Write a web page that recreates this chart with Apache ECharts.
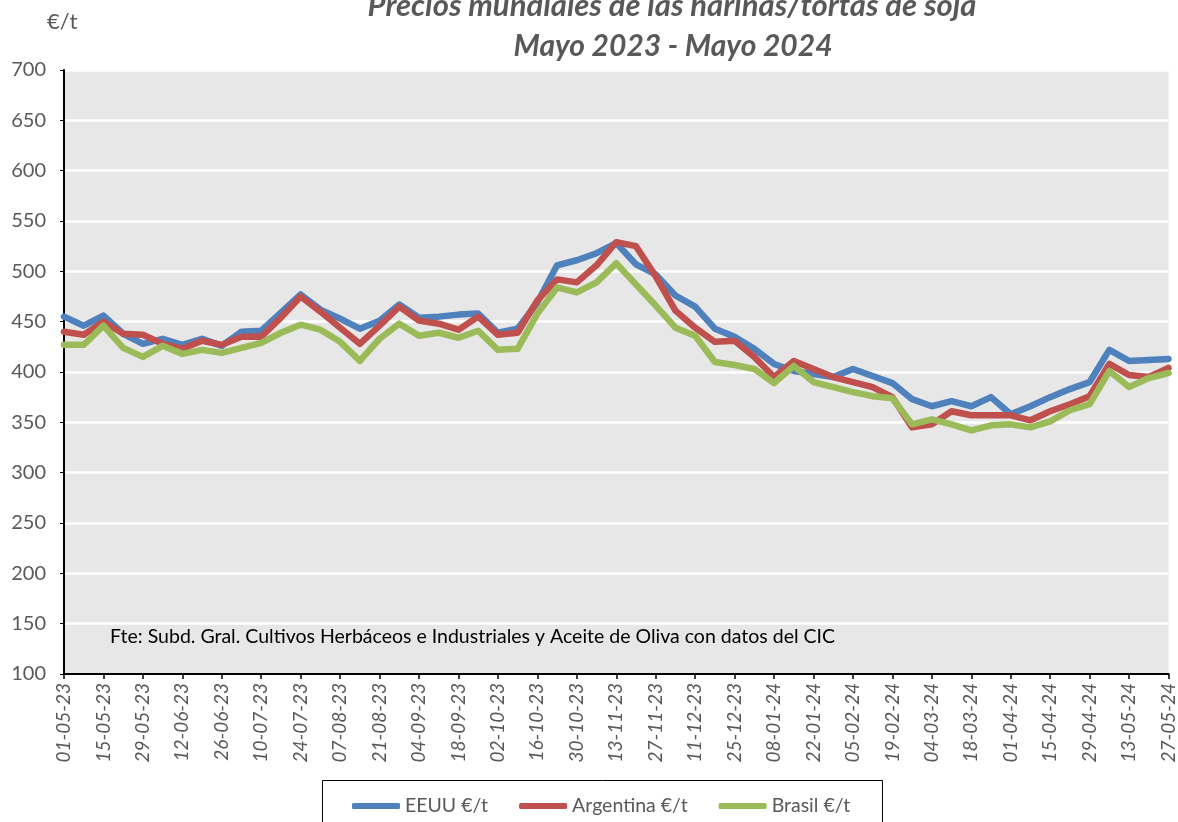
<!DOCTYPE html>
<html>
<head>
<meta charset="utf-8">
<script src="https://cdn.jsdelivr.net/npm/echarts@6/dist/echarts.min.js"></script>
<style>
  html, body { margin: 0; padding: 0; background: #fff; }
  #chart { width: 1178px; height: 822px; }
</style>
</head>
<body>
<div id="chart"></div>
<script>
// semanas (lunes) de mayo 2023 a mayo 2024
const fechas = [
  '01-05-23', '08-05-23', '15-05-23', '22-05-23', '29-05-23',
  '05-06-23', '12-06-23', '19-06-23', '26-06-23',
  '03-07-23', '10-07-23', '17-07-23', '24-07-23', '31-07-23',
  '07-08-23', '14-08-23', '21-08-23', '28-08-23',
  '04-09-23', '11-09-23', '18-09-23', '25-09-23',
  '02-10-23', '09-10-23', '16-10-23', '23-10-23', '30-10-23',
  '06-11-23', '13-11-23', '20-11-23', '27-11-23',
  '04-12-23', '11-12-23', '18-12-23', '25-12-23',
  '01-01-24', '08-01-24', '15-01-24', '22-01-24', '29-01-24',
  '05-02-24', '12-02-24', '19-02-24', '26-02-24',
  '04-03-24', '11-03-24', '18-03-24', '25-03-24',
  '01-04-24', '08-04-24', '15-04-24', '22-04-24', '29-04-24',
  '06-05-24', '13-05-24', '20-05-24', '27-05-24'
];

const eeuu = [
  455, 446, 456, 438, 428, 433, 427, 433, 426, 440, 441, 459, 477, 462, 453,
  443, 451, 467, 454, 455, 457, 458, 439, 443, 469, 506, 511, 518, 528, 507,
  497, 476, 465, 443, 435, 423, 408, 401, 398, 395, 403, 396, 389, 373, 366,
  371, 366, 375, 358, 366, 375, 383, 390, 422, 411, 412, 413
];

const argentina = [
  440, 437, 450, 438, 437, 428, 423, 431, 427, 435, 435, 454, 475, 460, 444,
  428, 446, 465, 451, 448, 442, 455, 437, 439, 471, 492, 489, 506, 529, 525,
  495, 461, 444, 430, 431, 415, 395, 411, 403, 395, 390, 385, 375, 345, 348,
  361, 357, 357, 357, 352, 361, 368, 376, 408, 397, 395, 404
];

const brasil = [
  427, 427, 446, 424, 415, 426, 418, 422, 419, 424, 429, 439, 447, 442, 430,
  411, 433, 448, 436, 439, 434, 441, 422, 423, 458, 484, 479, 489, 508, 487,
  466, 444, 436, 410, 407, 403, 389, 406, 390, 385, 380, 376, 374, 348, 353,
  348, 342, 347, 348, 345, 351, 362, 368, 401, 385, 394, 399
];

const nombres = ['EEUU €/t', 'Argentina €/t', 'Brasil €/t'];
const colores = ['#4F81BD', '#C0504D', '#9BBB59'];

const fuente = 'Lato, "Open Sans", sans-serif';
const gris = '#595959';

let chart = echarts.init(document.getElementById('chart'));

chart.setOption({
  backgroundColor: '#ffffff',
  animation: false,
  textStyle: { fontFamily: fuente },
  grid: {
    left: 64,
    right: 9,
    top: 70,
    bottom: 148,
    show: true,
    backgroundColor: '#E7E7E7',
    borderWidth: 0
  },
  graphic: [
    {
      type: 'text', x: 672, y: 6,
      style: {
        text: 'Precios mundiales de las harinas/tortas de soja',
        fill: gris, font: 'italic bold 31px ' + fuente,
        align: 'center', verticalAlign: 'middle'
      }
    },
    {
      type: 'text', x: 673, y: 46,
      style: {
        text: 'Mayo 2023 - Mayo 2024',
        fill: gris, font: 'italic bold 30px ' + fuente,
        align: 'center', verticalAlign: 'middle'
      }
    },
    {
      type: 'text', x: 47, y: 22,
      style: {
        text: '€/t', fill: gris, font: '22px ' + fuente,
        align: 'left', verticalAlign: 'middle'
      }
    },
    {
      type: 'text', x: 110, y: 637,
      style: {
        text: 'Fte: Subd. Gral. Cultivos Herbáceos e Industriales y Aceite de Oliva con datos del CIC',
        fill: '#000000', font: '19.5px ' + fuente,
        align: 'left', verticalAlign: 'middle'
      }
    },
    {
      type: 'rect',
      shape: { x: 322.5, y: 780.5, width: 560, height: 60 },
      style: { fill: '#ffffff', stroke: '#000000', lineWidth: 1 },
      z: -1
    }
  ],
  legend: {
    left: 347,
    top: 791,
    icon: 'roundRect',
    itemWidth: 48,
    itemHeight: 6,
    itemGap: 31,
    data: nombres,
    textStyle: { fontSize: 19.5, color: gris, fontFamily: fuente }
  },
  xAxis: {
    type: 'category',
    boundaryGap: false,
    data: fechas,
    axisLine: { show: true, lineStyle: { color: '#000000', width: 2 } },
    axisTick: { show: true, interval: 1, length: 5, lineStyle: { color: '#000000', width: 1.5 } },
    axisLabel: {
      interval: 1,
      rotate: 90,
      margin: 9,
      fontSize: 19,
      fontStyle: 'italic',
      color: gris,
      fontFamily: fuente
    },
    splitLine: { show: false }
  },
  yAxis: {
    type: 'value',
    min: 100,
    max: 700,
    interval: 50,
    axisLine: { show: true, lineStyle: { color: '#000000', width: 2 } },
    axisTick: { show: true, length: 4, lineStyle: { color: '#000000' } },
    axisLabel: { fontSize: 20, color: gris, margin: 18, fontFamily: fuente },
    splitLine: { show: true, lineStyle: { color: '#ffffff', width: 2.5 } }
  },
  series: [
    { name: nombres[0], type: 'line', data: eeuu },
    { name: nombres[1], type: 'line', data: argentina },
    { name: nombres[2], type: 'line', data: brasil }
  ].map(function (s, i) {
    s.symbol = 'none';
    s.smooth = false;
    s.color = colores[i];
    s.lineStyle = { width: 6.5, color: colores[i], cap: 'round', join: 'round' };
    return s;
  })
});
</script>
</body>
</html>
